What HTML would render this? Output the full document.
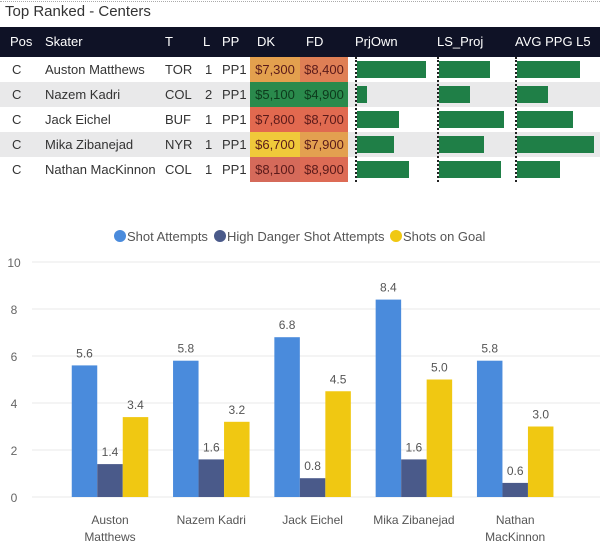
<!DOCTYPE html>
<html><head><meta charset="utf-8"><style>
body{margin:0;width:600px;height:557px;background:#fff;font-family:"Liberation Sans",sans-serif;position:relative;overflow:hidden}
.abs{position:absolute}
.hdr{position:absolute;top:27px;left:0;width:600px;height:30px;background:#0f1226}
.hdr span{position:absolute;top:7px;color:#fff;font-size:13px}
.row{position:absolute;left:0;width:600px;height:25px}
.row span{position:absolute;top:5px;font-size:13px;color:#333}
.cell{position:absolute;top:0;height:25px;width:50px;text-align:center;line-height:25px;font-size:13px;color:#5a1a1a}
.bar{position:absolute;top:4px;height:17px;background:#1f7f47}
.dash{position:absolute;top:57px;height:125px;border-left:2px dotted #222}
</style></head><body>
<div class="abs" style="left:0;top:1px;width:600px;border-top:1px dotted #aaa"></div>
<div class="abs" style="left:5px;top:3px;font-size:15px;color:#333">Top Ranked - Centers</div>
<div class="hdr">
<span style="left:10px">Pos</span><span style="left:45px">Skater</span><span style="left:165px">T</span><span style="left:203px">L</span><span style="left:222px">PP</span><span style="left:257px">DK</span><span style="left:306px">FD</span><span style="left:355px">PrjOwn</span><span style="left:437px">LS_Proj</span><span style="left:515px">AVG PPG L5</span>
</div>
<div id="rows"></div>
<div class="dash" style="left:355px"></div>
<div class="dash" style="left:437px"></div>
<div class="dash" style="left:515px"></div>
<svg id="chart" class="abs" style="left:0;top:220px" width="600" height="337"></svg>
<script>
const tNames=["Auston Matthews","Nazem Kadri","Jack Eichel","Mika Zibanejad","Nathan MacKinnon"];
const tTeams=["TOR","COL","BUF","NYR","COL"];
const tLines=["1","2","1","1","1"];
const dk=["$7,300","$5,100","$7,800","$6,700","$8,100"];
const fd=["$8,400","$4,900","$8,700","$7,900","$8,900"];
const dkColor=["#e3a04e","#2a8a4c","#e2694f","#f0c93a","#d56a5a"];
const fdColor=["#df7f55","#2a8a4c","#e06a50","#e3a050","#dd6b55"];
const prjOwn=[69,10,42,37,52];
const lsProj=[51,31,65,45,62];
const avgPpg=[63,31,56,77,43];
const rows=document.getElementById('rows');
tNames.forEach((n,i)=>{
 const r=document.createElement('div');r.className='row';
 
 
 r.style.top=(57+i*25)+'px';r.style.background=i%2?'#e9e9ea':'#fff';
 r.innerHTML=`<span style="left:12px">C</span><span style="left:45px">${n}</span><span style="left:165px">${tTeams[i]}</span><span style="left:205px">${tLines[i]}</span><span style="left:222px">PP1</span>
 <div class="cell" style="left:250px;background:${dkColor[i]};color:${i==1?'#0d3a1c':'#5a1a1a'}">${dk[i]}</div>
 <div class="cell" style="left:300px;width:48px;background:${fdColor[i]};color:${i==1?'#0d3a1c':'#5a1a1a'}">${fd[i]}</div>
 <div class="bar" style="left:357px;width:${prjOwn[i]}px"></div>
 <div class="bar" style="left:439px;width:${lsProj[i]}px"></div>
 <div class="bar" style="left:517px;width:${avgPpg[i]}px"></div>`;
 rows.appendChild(r);
});
// chart
const cats=[["Auston","Matthews"],["Nazem Kadri"],["Jack Eichel"],["Mika Zibanejad"],["Nathan","MacKinnon"]];
const shotAttempts=[5.6,5.8,6.8,8.4,5.8];
const highDanger=[1.4,1.6,0.8,1.6,0.6];
const shotsOnGoal=[3.4,3.2,4.5,5.0,3.0];
const yTicks=[0,2,4,6,8,10];
const series=[shotAttempts,highDanger,shotsOnGoal];
const sColors=["#4a8bdc","#4a5a8a","#f0c812"];
const sNames=["Shot Attempts","High Danger Shot Attempts","Shots on Goal"];
const svg=document.getElementById('chart');const NS="http://www.w3.org/2000/svg";
const y=v=>277-v*23.5; const xc=i=>110+i*101.3; const bw=25.5;
function mk(t,a,txt){const e=document.createElementNS(NS,t);for(const k in a)e.setAttribute(k,a[k]);if(txt!=null)e.textContent=txt;svg.appendChild(e);return e;}
yTicks.forEach(t=>{
 const l=mk('line',{x1:32,x2:600,y1:y(t),y2:y(t),stroke:'#eaeaea'});
 
 
 const tx=mk('text',{x:14,y:y(t)+5,'text-anchor':'middle','font-size':12,fill:'#666'},t);
 
 
});
series.forEach((s,k)=>s.forEach((v,i)=>{
 const x=xc(i)+(k-1.5)*bw;
 const r=mk('rect',{x:x,y:y(v),width:bw,height:v*23.5,fill:sColors[k]});
 
 
 const t=mk('text',{x:x+bw/2,y:y(v)-8,'text-anchor':'middle','font-size':12,fill:'#555'},v.toFixed(1));
 
 
}));
cats.forEach((c,i)=>c.forEach((ln,j)=>{
 const t=mk('text',{x:xc(i),y:304+j*17,'text-anchor':'middle','font-size':12,fill:'#555'},ln);
 
 
}));
const lx=[120,220,396];
sNames.forEach((n,k)=>{
 const c=mk('circle',{cx:lx[k],cy:16,r:6,fill:sColors[k]});
 
 
 const t=mk('text',{x:lx[k]+7,y:21,'font-size':13,fill:'#555'},n);
 
 
});
</script>
</body></html>
